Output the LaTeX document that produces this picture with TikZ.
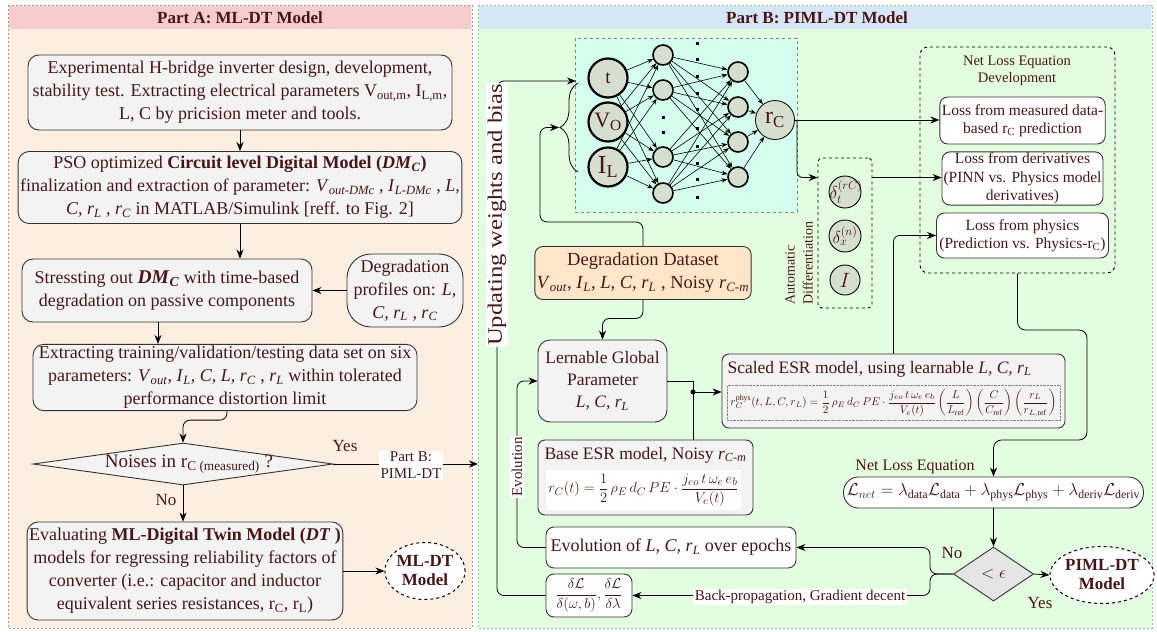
\documentclass[tikz,border=0pt]{standalone}
\usepackage{amsmath}
\usepackage{graphicx}
\usepackage{fontspec}
\setmainfont{Liberation Serif}
\usetikzlibrary{arrows.meta,shapes.geometric,decorations.pathreplacing,calc}

\definecolor{txt}{RGB}{72,22,22}
\definecolor{panelA}{RGB}{253,238,226}
\definecolor{headA}{RGB}{246,204,204}
\definecolor{panelB}{RGB}{226,253,224}
\definecolor{headB}{RGB}{214,230,248}
\definecolor{boxgray}{RGB}{243,243,243}
\definecolor{nnfill}{RGB}{212,255,238}
\definecolor{neuron}{RGB}{214,222,206}
\definecolor{dsfill}{RGB}{255,230,200}
\definecolor{edgeA}{RGB}{175,155,155}
\definecolor{edgeB}{RGB}{150,200,150}

% italic symbol with italic subscript, upright symbol with upright subscript
\newcommand{\iv}[2]{\textit{#1}\textsubscript{\textit{#2}}}
\newcommand{\uv}[2]{#1\textsubscript{#2}}

\begin{document}
\begin{tikzpicture}[x=1pt,y=-1pt,
  every node/.append style={text=txt},
  box/.style={draw=black!80, line width=0.9pt, fill=boxgray, rounded corners=11pt, align=center, inner sep=2pt},
  wbox/.style={box, fill=white},
  big/.style={font=\fontsize{18}{23}\selectfont},
  mid/.style={font=\fontsize{15.5}{18.5}\selectfont},
  arr/.style={-{Stealth[length=9pt,width=7pt]}, line width=0.8pt, black},
  ln/.style={line width=0.8pt, black},
  nnarr/.style={-{Stealth[length=6pt,width=4.5pt]}, line width=0.6pt, black},
  inneuron/.style={circle, draw=black, line width=2.2pt, fill=neuron, minimum size=39pt, inner sep=0pt},
  hneuron/.style={circle, draw=black, line width=1.6pt, fill=neuron, minimum size=20pt, inner sep=0pt},
  adneuron/.style={circle, draw=black, line width=0.9pt, fill=neuron, minimum size=32pt, inner sep=0pt, font=\fontsize{18}{20}\selectfont},
  lbl/.style={fill=white, inner sep=1.5pt},
]
\useasboundingbox (0,0) rectangle (1157,632);
\fill[white] (0,0) rectangle (1157,632);

% ---------------- Part A panel ----------------
\fill[panelA] (8,5) rectangle (472,628);
\fill[headA] (9,6) rectangle (471,29);
\draw[edgeA, dash pattern=on 2pt off 2pt, line width=0.7pt] (8,5) rectangle (472,628);
\node[font=\bfseries\fontsize{17}{20}\selectfont] (titleA) at (240,17.5) {Part A: ML-DT Model};

\node[box, big, minimum width=424pt, minimum height=75pt] (b1) at (240,92.5)
  {Experimental H-bridge inverter design, development,\\ stability test. Extracting electrical parameters \uv{V}{out,m}, \uv{I}{L,m},\\ L, C by pricision meter and tools.};
\node[box, big, minimum width=436pt, minimum height=72pt] (b2) at (240,187.5)
  {PSO optimized \textbf{Circuit level Digital Model (\iv{DM}{C})}\\ finalization and extraction of parameter: \iv{V}{out-DMc} , \iv{I}{L-DMc} , \textit{L,}\\ \textit{C,} \iv{r}{L} , \iv{r}{C} in MATLAB/Simulink [reff. to Fig. 2]};
\node[box, big, minimum width=290pt, minimum height=63pt] (b3) at (167,290.5)
  {Stressting out {\fontsize{19.5}{23}\selectfont\textbf{\iv{DM}{C}}} with time-based\\ degradation on passive components};
\node[box, big, rounded corners=24pt, minimum width=116pt, minimum height=73pt] (dp) at (405,290.5)
  {Degradation\\ profiles on: \textit{L,}\\ \textit{C,} \iv{r}{L} , \iv{r}{C}};
\node[box, big, minimum width=384pt, minimum height=65pt] (b4) at (225,377.5)
  {Extracting training/validation/testing data set on six\\ parameters: \iv{V}{out}, \iv{I}{L}, \textit{C, L,} \iv{r}{C} , \iv{r}{L} within tolerated\\ performance distortion limit};
\node[draw=black!80, line width=0.9pt, fill=boxgray, diamond, aspect=7, inner sep=0pt,
      minimum width=300pt, minimum height=42pt, font=\fontsize{19}{22}\selectfont] (dia) at (183,464)
  {\makebox[0pt]{\hspace*{12pt}Noises in r\textsubscript{C (measured)} ?}};
\node[box, big, minimum width=310pt, minimum height=98pt] (b5) at (185,571)
  {Evaluating \textbf{ML-Digital Twin Model (\textit{DT} )}\\ models for regressing reliability factors of\\ converter (i.e.: capacitor and inductor\\ equivalent series resistances, \uv{r}{C}, \uv{r}{L})};
\node[ellipse, draw=black, dashed, line width=1pt, fill=white, minimum width=76pt, minimum height=57pt,
      inner sep=0pt, align=center, font=\bfseries\fontsize{17}{19}\selectfont] (mldt) at (425,571) {ML-DT\\Model};

\coordinate (pbin) at (478,464);
\draw[arr] (b1.south) -- (b2.north);
\draw[arr] (b2.south) -- (b2.south |- b3.north);
\draw[arr] ($(b3.south)+(-9,0)$) -- ($(b4.north)+(-67,0)$);
\draw[arr] (dp.west) -- (b3.east);
\draw[arr, rounded corners=7pt] ($(b4.south)+(2,0)$) -- ++(0,9) -| (dia.north);
\draw[arr] (dia.east) -- (pbin);
\draw[arr] (dia.south) -- (b5.north -| dia.south);
\draw[arr] (b5.east) -- (mldt.west);
\node[lbl, align=center, font=\fontsize{15}{17}\selectfont] (pbl) at (411,465.5) {Part B:\\ PIML-DT};
\node[font=\fontsize{17}{19}\selectfont] (yesA) at (345,446) {Yes};
\node[font=\fontsize{17}{19}\selectfont] (noA) at (166,500) {No};

% ---------------- Part B panel ----------------
\fill[panelB] (478,5) rectangle (1152,628);
\fill[headB] (479,6) rectangle (1151,29);
\draw[edgeB, dash pattern=on 2pt off 2pt, line width=0.7pt] (478,5) rectangle (1152,628);
\node[font=\bfseries\fontsize{17}{20}\selectfont] (titleB) at (817,17.5) {Part B: PIML-DT Model};

% neural network
\node[draw=gray, dashed, fill=nnfill, minimum width=222pt, minimum height=174pt, inner sep=0pt] (nn) at (686,125) {};
\node[inneuron, font=\fontsize{19}{21}\selectfont] (t) at (608,78) {t};
\node[inneuron, font=\fontsize{22}{24}\selectfont] (vo) at (608,122) {V\textsubscript{O}};
\node[inneuron, font=\fontsize{26}{28}\selectfont] (il) at (608,167) {I\textsubscript{L}};
\node[hneuron] (h1) at (663,55) {};
\node[hneuron] (h2) at (663,90) {};
\node[hneuron] (h3) at (663,157) {};
\node[hneuron] (h4) at (663,193) {};
\node[hneuron] (g1) at (738,72) {};
\node[hneuron] (g2) at (738,107) {};
\node[hneuron] (g3) at (738,142) {};
\node[hneuron] (g4) at (738,177) {};
\node[circle, draw=black, line width=0.8pt, fill=neuron, minimum size=39pt, inner sep=0pt,
      font=\fontsize{24}{26}\selectfont] (out) at (775,120) {r\textsubscript{C}};
\foreach \a in {t,vo,il} \foreach \b in {h1,h2,h3,h4} \draw[nnarr] (\a) -- (\b);
\foreach \a in {h1,h2,h3,h4} \foreach \b in {g1,g2,g3,g4} \draw[nnarr] (\a) -- (\b);
\foreach \a in {g1,g2,g3,g4} \draw[nnarr] (\a) -- (out);
\foreach \y in {43,59,76,93,109,128,146,163,179,197} \fill (695.5,\y-1.5) rectangle ++(3,3);
\foreach \y in {117,132} \fill (661.5,\y-1.5) rectangle ++(3,3);

% input brace
\coordinate (brt) at (578,83);
\coordinate (brb) at (578,172);
\coordinate (brtin) at (576,81);
\coordinate (brtip) at (559,127.5);
\draw[ln, decorate, decoration={brace, amplitude=18pt}] (brb) -- (brt);

% dataset, parameters and ESR models
\node[box, font=\fontsize{18.5}{23}\selectfont, fill=dsfill, rounded corners=8pt, minimum width=215pt, minimum height=53pt] (ds) at (643,273)
  {Degradation Dataset\\ \iv{V}{out}, \iv{I}{L}, \textit{L, C,} \iv{r}{L} , Noisy \iv{r}{C-m}};
\node[box, font=\fontsize{17.5}{22}\selectfont, rounded corners=12pt, minimum width=129pt, minimum height=82pt] (lgp) at (602.5,381)
  {Lernable Global\\ Parameter\\ \textit{L, C,} \iv{r}{L}};
\node[box, rounded corners=7pt, minimum width=215pt, minimum height=75pt] (bes) at (645.5,477.5) {};
\node[font=\fontsize{17.5}{20}\selectfont] (bestitle) at (645.5,455) {Base ESR model, Noisy \iv{r}{C-m}};
\node[fill=white, inner sep=2pt, minimum width=193pt, minimum height=40pt, font=\fontsize{15}{17}\selectfont] (beseq) at (643.5,490)
  {$r_C(t) = \dfrac{1}{2}\,\rho_E\, d_C\, PE \cdot \dfrac{j_{eo}\, t\, \omega_e\, e_b}{V_e(t)}$};

\node[box, rounded corners=7pt, minimum width=343pt, minimum height=74pt] (ses) at (893.5,391) {};
\node[font=\fontsize{17.5}{20}\selectfont, anchor=west] (sestitle) at (724,369) {Scaled ESR model, using learnable \textit{L, C,} \iv{r}{L}};
\node[draw=gray, densely dotted, inner sep=1pt, minimum width=333pt, minimum height=35pt] (seseq) at (893.5,403)
  {\resizebox{326pt}{!}{$r_C^{\text{phys}}(t,L,C,r_L) = \dfrac{1}{2}\,\rho_E\,d_C\,PE\cdot\dfrac{j_{eo}\,t\,\omega_e\,e_b}{V_e(t)}\left(\dfrac{L}{L_{\text{ref}}}\right)\left(\dfrac{C}{C_{\text{ref}}}\right)\left(\dfrac{r_L}{r_{L,\text{ref}}}\right)$}};

% loss development
\node[draw=black, dashed, line width=0.9pt, rounded corners=8pt, minimum width=195pt, minimum height=226pt] (dev) at (1017.5,160) {};
\node[align=center, font=\fontsize{14.5}{17}\selectfont] (devtitle) at (1017,71) {Net Loss Equation\\ Development};
\node[wbox, mid, rounded corners=8pt, minimum width=161pt, minimum height=47pt] (l1) at (1022.5,120.5)
  {Loss from measured data-\\ based \uv{r}{C} prediction};
\node[wbox, mid, rounded corners=8pt, minimum width=161pt, minimum height=51pt, inner sep=1pt] (l2) at (1022.5,178.5)
  {Loss from derivatives\\ (PINN vs. Physics model\\ derivatives)};
\node[wbox, mid, rounded corners=8pt, minimum width=172pt, minimum height=45pt] (l3) at (1022.5,235.5)
  {Loss from physics\\ (Prediction vs. Physics-\uv{r}{C})};

% automatic differentiation
\node[draw=black, dashed, line width=0.9pt, rounded corners=4pt, minimum width=54pt, minimum height=150pt] (ad) at (845,233) {};
\node[adneuron] (d1) at (845,192) {\makebox[0pt]{\hspace*{2pt}$\delta_t^{(rC)}$}};
\node[adneuron] (d2) at (845,236) {\makebox[0pt]{$\delta_x^{(n)}$}};
\node[adneuron, minimum size=30pt, font=\fontsize{21}{23}\selectfont] (d3) at (845,280) {$I$};
\node[rotate=90, align=left, font=\fontsize{14}{18}\selectfont] (adl) at (799,263) {Automatic\\ Differentiation};

% net loss, decision and outputs
\node[font=\fontsize{16}{18}\selectfont] (nlelabel) at (915,467) {Net Loss Equation};
\node[draw=black!80, line width=0.9pt, fill=white, rounded corners=15pt, minimum width=297pt, minimum height=31pt,
      font=\fontsize{17}{19}\selectfont] (nle) at (993.5,492.5)
  {$\mathcal{L}_{net} = \lambda_{\text{data}}\mathcal{L}_{\text{data}} + \lambda_{\text{phys}}\mathcal{L}_{\text{phys}} + \lambda_{\text{deriv}}\mathcal{L}_{\text{deriv}}$};
\node[diamond, draw=black!80, fill=black!10, line width=0.9pt, minimum width=80pt, minimum height=54pt, inner sep=0pt,
      aspect=1.5, font=\fontsize{17}{19}\selectfont] (eps) at (993.5,574) {$<\epsilon$};
\node[ellipse, draw=black, dashed, line width=1pt, fill=white, minimum width=96pt, minimum height=57pt,
      inner sep=0pt, align=center, font=\bfseries\fontsize{17}{19}\selectfont] (piml) at (1102,575) {PIML-DT\\Model};
\node[wbox, font=\fontsize{18}{20}\selectfont, rounded corners=8pt, minimum width=250pt, minimum height=41pt] (evo) at (671,547.5)
  {Evolution of \textit{L, C,} \iv{r}{L} over epochs};
\node[wbox, rounded corners=8pt, minimum width=86pt, minimum height=43pt, font=\fontsize{14.5}{17}\selectfont] (grad) at (589,595.5)
  {$\dfrac{\delta\mathcal{L}}{\delta(\omega,b)}, \dfrac{\delta\mathcal{L}}{\delta\lambda}$};
\node[font=\fontsize{17}{19}\selectfont] (noB) at (952,553) {No};
\node[font=\fontsize{17}{19}\selectfont] (yesB) at (1040,603) {Yes};

% connectors of part B
\coordinate (upd) at (497,81);
\coordinate (dsturn) at (540,222);
\coordinate (evturn) at (517,470);
\coordinate (jn) at (693,392);
\coordinate (br1) at (797,120);
\coordinate (adout) at ($(ad.north east)+(0,20)$);
\coordinate (c1) at (1087,330);
\coordinate (c2) at (1087,440);
\coordinate (split) at (930,574);

\draw[arr, rounded corners=7pt] (grad.west) -| (upd) -- (brtin);
\draw[arr, rounded corners=7pt] (ds.north) |- (dsturn) |- (brtip);
\draw[arr, rounded corners=7pt] (evo.west) -| (evturn) |- (lgp.west);
\draw[arr, rounded corners=7pt] (ds.south) -- ++(0,18.5) -| (lgp.north);
\draw[ln] (lgp.east) -| (jn);
\draw[ln] (bes.north -| jn) -- (jn);
\draw[arr] (jn) -- (jn -| ses.west);
\fill (jn) circle (2.5pt);
\draw[arr] (out.east) -- (out.east -| l1.west);
\draw[arr, rounded corners=6pt] (br1) |- ($(ad.north west)+(0,20)$);
\draw[arr] (adout) -- (adout -| l2.west);
\draw[arr, rounded corners=6pt] (ses.north) |- (l3.west);
\draw[arr, rounded corners=8pt] (dev.south) |- (c1) -- (c2) -| (nle.north);
\draw[arr] (nle.south) -- (eps.north);
\draw[arr, rounded corners=7pt] (eps.west) -- (split) |- (evo.east);
\draw[arr, rounded corners=7pt] (eps.west) -- (split) |- (grad.east);
\draw[arr] (eps.east) -- (piml.west);

\node[lbl, rotate=90, font=\fontsize{20.5}{22}\selectfont] (uwl) at (497,215) {\scalebox{1.2}[1]{Updating weights and bias}};
\node[lbl, rotate=90, font=\fontsize{15}{17}\selectfont] (evl) at (517,467) {Evolution};
\node[lbl, font=\fontsize{15}{17}\selectfont] (bp) at (800,597) {Back-propagation, Gradient decent};
\end{tikzpicture}
\end{document}
